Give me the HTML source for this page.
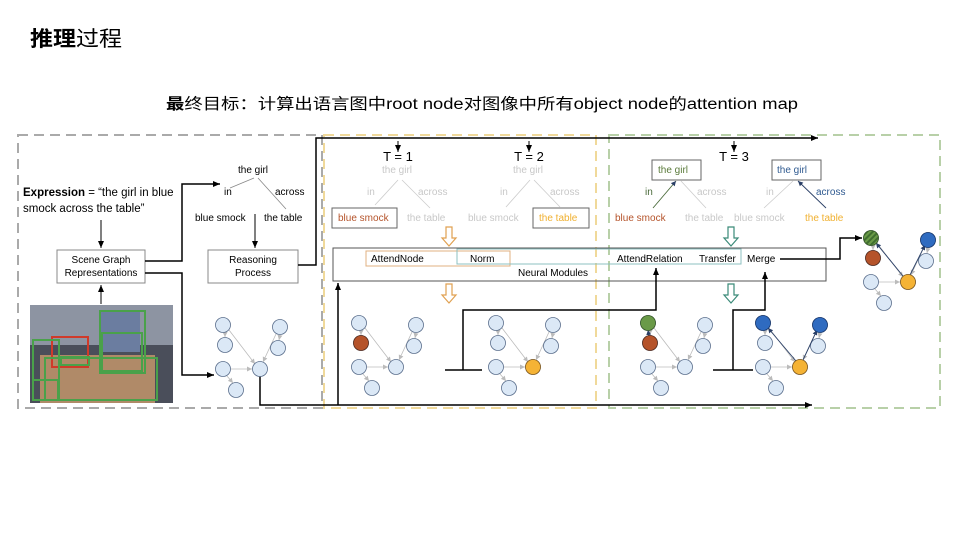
<!DOCTYPE html>
<html><head><meta charset="utf-8"><style>
body{margin:0;background:#fff;width:960px;height:540px;overflow:hidden}
svg{display:block}
text{font-family:"Liberation Sans","Noto Sans CJK SC",sans-serif}
</style></head><body>
<svg width="960" height="540" viewBox="0 0 960 540" xmlns="http://www.w3.org/2000/svg">
<defs>
<marker id="ah" markerWidth="8" markerHeight="8" refX="7" refY="4" orient="auto" markerUnits="userSpaceOnUse"><path d="M0,1 L7,4 L0,7z" fill="#000"/></marker>
<marker id="ga" markerWidth="6" markerHeight="6" refX="5" refY="3" orient="auto" markerUnits="userSpaceOnUse"><path d="M0,0.5 L5,3 L0,5.5z" fill="#bbb"/></marker>
<marker id="da" markerWidth="6" markerHeight="6" refX="5" refY="3" orient="auto" markerUnits="userSpaceOnUse"><path d="M0,0.5 L5,3 L0,5.5z" fill="#2a3f66"/></marker>
<pattern id="str" width="4" height="4" patternUnits="userSpaceOnUse" patternTransform="rotate(45)"><rect width="4" height="4" fill="#6a9a48"/><rect width="2" height="4" fill="#3f6e2f"/></pattern>
<g id="gr" stroke="#bbb" stroke-width="0.8" fill="none">
<line x1="2" y1="8" x2="2" y2="12" marker-end="url(#ga)" marker-start="url(#ga)"/>
<line x1="6" y1="5" x2="32" y2="39" marker-end="url(#ga)" marker-start="url(#ga)"/>
<line x1="53" y1="9" x2="40" y2="37" marker-end="url(#ga)" marker-start="url(#ga)"/>
<line x1="57" y1="10" x2="56" y2="15" marker-end="url(#ga)" marker-start="url(#ga)"/>
<line x1="8" y1="44" x2="29" y2="44" marker-end="url(#ga)" marker-start="url(#ga)"/>
<line x1="4" y1="51" x2="10" y2="58" marker-end="url(#ga)" marker-start="url(#ga)"/>
<g fill="#dbe8f6" stroke="#5a6e8c" stroke-width="0.8">
<circle cx="0" cy="0" r="7.5"/><circle cx="2" cy="20" r="7.5"/><circle cx="57" cy="2" r="7.5"/><circle cx="55" cy="23" r="7.5"/><circle cx="0" cy="44" r="7.5"/><circle cx="37" cy="44" r="7.5"/><circle cx="13" cy="65" r="7.5"/>
</g></g>
</defs>

<text x="30" y="46" font-size="21" font-weight="bold" textLength="92" lengthAdjust="spacingAndGlyphs">推理<tspan font-weight="normal">过程</tspan></text>
<text x="166" y="109" font-size="15.5" textLength="632" lengthAdjust="spacingAndGlyphs"><tspan font-weight="bold">最</tspan>终目标：计算出语言图中root  node对图像中所有object  node的attention  map</text>

<!-- dashed boxes -->
<rect x="18" y="135" width="304" height="273" fill="none" stroke="#aaa" stroke-width="2" stroke-dasharray="10,6"/>
<rect x="324" y="135" width="272" height="273" fill="none" stroke="#f0d99a" stroke-width="2" stroke-dasharray="10,6"/>
<rect x="609" y="135" width="331" height="273" fill="none" stroke="#b8d0a8" stroke-width="2" stroke-dasharray="10,6"/>

<!-- left panel -->
<text x="23" y="196" font-size="11.5"><tspan font-weight="bold">Expression</tspan> = “the girl in blue</text>
<text x="23" y="212" font-size="11.5">smock across the table”</text>
<line x1="101" y1="220" x2="101" y2="248" stroke="#000" marker-end="url(#ah)"/>
<rect x="57" y="250" width="88" height="33" fill="#fff" stroke="#888"/>
<text x="101" y="263" font-size="10" text-anchor="middle">Scene Graph</text>
<text x="101" y="276" font-size="10" text-anchor="middle">Representations</text>
<line x1="101" y1="304" x2="101" y2="285" stroke="#000" marker-end="url(#ah)"/>
<polyline points="145,261 182,261 182,184 220,184" fill="none" stroke="#000" stroke-width="1.5" marker-end="url(#ah)"/>
<polyline points="145,273 182,273 182,375 214,375" fill="none" stroke="#000" stroke-width="1.5" marker-end="url(#ah)"/>
<text x="253" y="173" font-size="10" text-anchor="middle">the girl</text>
<line x1="230" y1="188" x2="254" y2="178" stroke="#888" stroke-width="0.8"/>
<line x1="286" y1="209" x2="258" y2="178" stroke="#888" stroke-width="0.8"/>
<text x="224" y="195" font-size="10">in</text>
<text x="275" y="195" font-size="10">across</text>
<text x="195" y="221" font-size="10">blue smock</text>
<text x="264" y="221" font-size="10">the table</text>
<line x1="255" y1="214" x2="255" y2="248" stroke="#000" marker-end="url(#ah)"/>
<rect x="208" y="250" width="90" height="33" fill="#fff" stroke="#888"/>
<text x="253" y="263" font-size="10" text-anchor="middle">Reasoning</text>
<text x="253" y="276" font-size="10" text-anchor="middle">Process</text>
<polyline points="298,265 316,265 316,138 818,138" fill="none" stroke="#000" stroke-width="1.5" marker-end="url(#ah)"/>
<polyline points="260,375 260,405 812,405" fill="none" stroke="#000" stroke-width="1.5" marker-end="url(#ah)"/>

<!-- photo -->
<rect x="30" y="305" width="143" height="98" fill="#4a4e5a"/>
<rect x="30" y="305" width="143" height="40" fill="#8d94a2"/>
<rect x="40" y="355" width="115" height="48" fill="#b08a68"/>
<rect x="100" y="312" width="40" height="40" fill="#6b7da0"/>
<g fill="none" stroke-width="2">
<rect x="100" y="311" width="45" height="62" stroke="#4aa14a"/>
<rect x="52" y="337" width="36" height="30" stroke="#d03a2a"/>
<rect x="33" y="340" width="26" height="60" stroke="#4aa14a"/>
<rect x="45" y="358" width="112" height="42" stroke="#4aa14a"/>
<rect x="61" y="357" width="28" height="8" stroke="#4aa14a"/>
<rect x="33" y="380" width="25" height="20" stroke="#4aa14a"/>
<rect x="102" y="333" width="40" height="38" stroke="#4aa14a"/>
</g>

<use href="#gr" x="223" y="325"/>

<!-- T=1 / T=2 -->
<line x1="398" y1="141" x2="398" y2="152" stroke="#000" marker-end="url(#ah)"/>
<text x="398" y="161" font-size="13" text-anchor="middle">T = 1</text>
<line x1="529" y1="141" x2="529" y2="152" stroke="#000" marker-end="url(#ah)"/>
<text x="529" y="161" font-size="13" text-anchor="middle">T = 2</text>
<g font-size="10" fill="#c8c8c8">
<text x="397" y="173" text-anchor="middle">the girl</text>
<text x="367" y="195">in</text><text x="418" y="195">across</text>
<text x="407" y="221">the table</text>
<text x="528" y="173" text-anchor="middle">the girl</text>
<text x="500" y="195">in</text><text x="550" y="195">across</text>
<text x="468" y="221">blue smock</text>
</g>
<g stroke="#ccc" stroke-width="0.8">
<line x1="375" y1="205" x2="398" y2="180"/><line x1="430" y1="208" x2="402" y2="180"/>
<line x1="506" y1="207" x2="530" y2="180"/><line x1="560" y1="207" x2="534" y2="180"/>
</g>
<rect x="332" y="208" width="65" height="20" fill="none" stroke="#666"/>
<text x="338" y="221" font-size="10" fill="#b5532a">blue smock</text>
<rect x="533" y="208" width="56" height="20" fill="none" stroke="#666"/>
<text x="539" y="221" font-size="10" fill="#f0b030">the table</text>

<!-- hollow arrows -->
<g fill="#fff" stroke="#e0a050" stroke-width="1.2">
<path d="M446,227 h6 v11 h4 l-7,8 l-7,-8 h4z"/>
<path d="M446,284 h6 v11 h4 l-7,8 l-7,-8 h4z"/>
</g>
<g fill="#fff" stroke="#3a8a78" stroke-width="1.2">
<path d="M728,227 h6 v11 h4 l-7,8 l-7,-8 h4z"/>
<path d="M728,284 h6 v11 h4 l-7,8 l-7,-8 h4z"/>
</g>

<!-- neural modules -->
<rect x="333" y="248" width="493" height="33" fill="none" stroke="#555"/>
<rect x="366" y="251" width="144" height="15" fill="none" stroke="#e0b080"/>
<rect x="457" y="249" width="284" height="15" fill="none" stroke="#8cc0c0"/>
<text x="371" y="262" font-size="10">AttendNode</text>
<text x="470" y="262" font-size="10">Norm</text>
<text x="518" y="276" font-size="10">Neural Modules</text>
<text x="617" y="262" font-size="10">AttendRelation</text>
<text x="699" y="262" font-size="10">Transfer</text>
<text x="747" y="262" font-size="10">Merge</text>
<line x1="338" y1="405" x2="338" y2="283" stroke="#000" stroke-width="1.5" marker-end="url(#ah)"/>

<use href="#gr" x="359" y="323"/>
<circle cx="361" cy="343" r="7.5" fill="#b5532a" stroke="#5a3020" stroke-width="0.8"/>
<use href="#gr" x="496" y="323"/>
<circle cx="533" cy="367" r="7.5" fill="#f5b335" stroke="#8a6020" stroke-width="0.8"/>

<!-- connectors to modules -->
<line x1="445" y1="370" x2="482" y2="370" stroke="#000" stroke-width="1.5"/>
<polyline points="463,370 463,310 656,310 656,268" fill="none" stroke="#000" stroke-width="1.5" marker-end="url(#ah)"/>
<line x1="713" y1="370" x2="753" y2="370" stroke="#000" stroke-width="1.5"/>
<polyline points="733,370 733,310 765,310 765,272" fill="none" stroke="#000" stroke-width="1.5" marker-end="url(#ah)"/>
<polyline points="780,259 840,259 840,238 862,238" fill="none" stroke="#000" stroke-width="1.5" marker-end="url(#ah)"/>

<!-- T=3 -->
<line x1="734" y1="141" x2="734" y2="152" stroke="#000" marker-end="url(#ah)"/>
<text x="734" y="161" font-size="13" text-anchor="middle">T = 3</text>
<rect x="652" y="160" width="49" height="20" fill="none" stroke="#666"/>
<text x="658" y="173" font-size="10" fill="#5a7a3a">the girl</text>
<rect x="772" y="160" width="49" height="20" fill="none" stroke="#666"/>
<text x="777" y="173" font-size="10" fill="#2f5a90">the girl</text>
<line x1="653" y1="208" x2="676" y2="181" stroke="#4a6a3a" stroke-width="0.9" marker-end="url(#da)"/>
<line x1="706" y1="208" x2="681" y2="181" stroke="#ccc" stroke-width="0.8"/>
<line x1="764" y1="208" x2="793" y2="181" stroke="#ccc" stroke-width="0.8"/>
<line x1="826" y1="208" x2="798" y2="181" stroke="#2a3f66" stroke-width="0.9" marker-end="url(#da)"/>
<text x="645" y="195" font-size="10" fill="#4a6a3a">in</text>
<text x="697" y="195" font-size="10" fill="#c8c8c8">across</text>
<text x="766" y="195" font-size="10" fill="#c8c8c8">in</text>
<text x="816" y="195" font-size="10" fill="#2f5a90">across</text>
<text x="615" y="221" font-size="10" fill="#b5532a">blue smock</text>
<text x="685" y="221" font-size="10" fill="#c8c8c8">the table</text>
<text x="734" y="221" font-size="10" fill="#c8c8c8">blue smock</text>
<text x="805" y="221" font-size="10" fill="#f0b030">the table</text>

<use href="#gr" x="648" y="323"/>
<line x1="649" y1="337" x2="648" y2="330" stroke="#2a3f66" stroke-width="0.9" marker-end="url(#da)"/>
<circle cx="648" cy="323" r="7.5" fill="#6a9a48" stroke="#3a5a2a" stroke-width="0.8"/>
<circle cx="650" cy="343" r="7.5" fill="#b5532a" stroke="#5a3020" stroke-width="0.8"/>

<use href="#gr" x="763" y="323"/>
<line x1="796" y1="361" x2="768" y2="328" stroke="#2a3f66" stroke-width="0.9" marker-end="url(#da)"/>
<line x1="803" y1="360" x2="817" y2="330" stroke="#2a3f66" stroke-width="0.9" marker-end="url(#da)"/>
<circle cx="763" cy="323" r="7.5" fill="#2f6bc0" stroke="#1a3a70" stroke-width="0.8"/>
<circle cx="820" cy="325" r="7.5" fill="#2f6bc0" stroke="#1a3a70" stroke-width="0.8"/>
<circle cx="800" cy="367" r="7.5" fill="#f5b335" stroke="#8a6020" stroke-width="0.8"/>

<use href="#gr" x="871" y="238"/>
<line x1="903" y1="276" x2="876" y2="243" stroke="#2a3f66" stroke-width="0.9" marker-end="url(#da)"/>
<line x1="910" y1="275" x2="925" y2="245" stroke="#2a3f66" stroke-width="0.9" marker-end="url(#da)"/>
<circle cx="871" cy="238" r="7.5" fill="url(#str)" stroke="#3a5a2a" stroke-width="0.8"/>
<circle cx="873" cy="258" r="7.5" fill="#b5532a" stroke="#5a3020" stroke-width="0.8"/>
<circle cx="928" cy="240" r="7.5" fill="#2f6bc0" stroke="#1a3a70" stroke-width="0.8"/>
<circle cx="908" cy="282" r="7.5" fill="#f5b335" stroke="#8a6020" stroke-width="0.8"/>
</svg>
</body></html>
